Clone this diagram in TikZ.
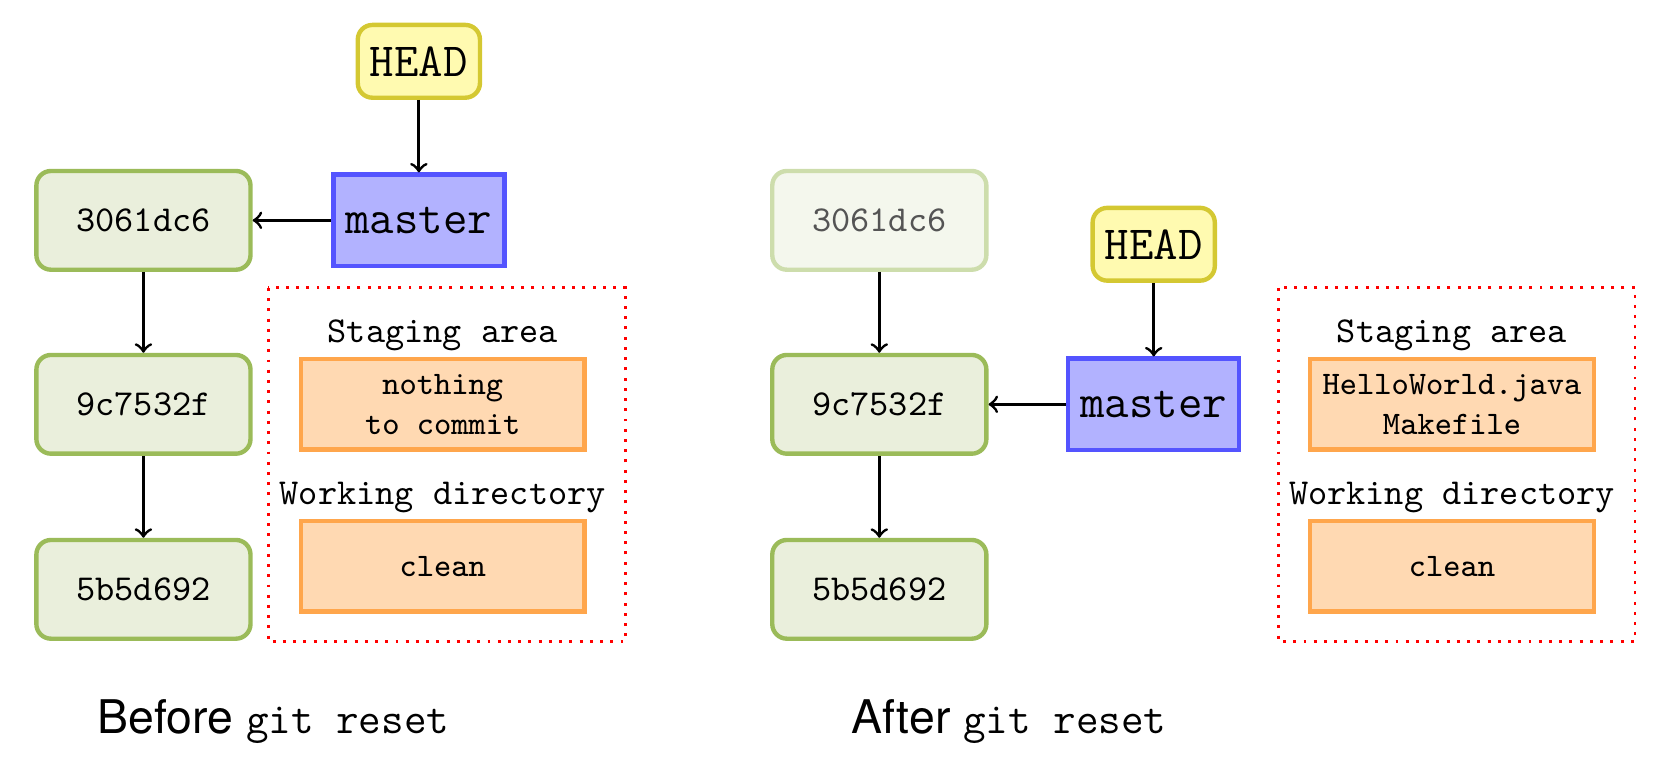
\documentclass[tikz,border=0pt]{standalone}
\usepackage{fontspec}
\newfontfamily\capfont{TeX Gyre Heros}
\definecolor{commitfill}{RGB}{234,239,220}
\definecolor{commitdraw}{RGB}{155,187,89}
\definecolor{headfill}{RGB}{255,250,176}
\definecolor{headdraw}{RGB}{212,200,50}
\begin{document}
\begin{tikzpicture}[thick, every node/.style={font=\ttfamily},
	commit/.style={rounded corners, very thick, draw=commitdraw, fill=commitfill, minimum width=2.06cm, minimum height=0.95cm},
	oldcommit/.style={commit, draw=commitdraw!50, fill=commitfill!50, text=black!67},
	head/.style={rounded corners, very thick, draw=headdraw, fill=headfill, minimum height=0.7cm, font=\fontsize{13}{15}\selectfont\ttfamily},
	branch/.style={very thick, draw=blue!67, fill=blue!30, minimum height=0.88cm, font=\fontsize{13}{15}\selectfont\ttfamily},
	area/.style={very thick, draw=orange!70, fill=orange!30, minimum width=2.73cm, minimum height=0.87cm, align=center, font=\small\ttfamily}]
	\useasboundingbox (0,0) rectangle (16,-7.31);
	
	% before
	\node (1) at (1.38,-2.12) [commit]{3061dc6};
	\node (2) at (1.38,-3.89) [commit]{9c7532f};
	\node (3) at (1.38,-5.67) [commit]{5b5d692};
	\node (4) at (4.03,-2.12) [branch]{master};
	\node (5) at (4.03,-0.59) [head]{HEAD};
	\node (6) at (4.26,-3.23) {Staging area};
	\node (7) at (4.26,-3.89) [area]{nothing\\to commit};
	\node (8) at (4.26,-4.79) {Working directory};
	\node (9) at (4.26,-5.45) [area]{clean};
	\draw [red, dotted] (2.58,-2.77) rectangle (6.02,-6.17);
	\node (10) at (2.63,-6.94) {\fontsize{12.7}{15}\selectfont\capfont Before \fontsize{12}{15}\selectfont\ttfamily git reset};
	
	% after
	\node (11) at (8.46,-2.12) [oldcommit]{3061dc6};
	\node (12) at (8.46,-3.89) [commit]{9c7532f};
	\node (13) at (8.46,-5.67) [commit]{5b5d692};
	\node (14) at (11.10,-3.89) [branch]{master};
	\node (15) at (11.10,-2.35) [head]{HEAD};
	\node (16) at (13.97,-3.23) {Staging area};
	\node (17) at (13.97,-3.89) [area]{HelloWorld.java\\Makefile};
	\node (18) at (13.97,-4.79) {Working directory};
	\node (19) at (13.97,-5.45) [area]{clean};
	\draw [red, dotted] (12.30,-2.77) rectangle (15.73,-6.17);
	\node (20) at (9.71,-6.94) {\fontsize{12.7}{15}\selectfont\capfont After \fontsize{12}{15}\selectfont\ttfamily git reset};
	
	\draw [->] (1) to (2);
	\draw [->] (2) to (3);
	\draw [->] (4) to (1);
	\draw [->] (5) to (4);
	\draw [->] (11) to (12);
	\draw [->] (12) to (13);
	\draw [->] (14) to (12);
	\draw [->] (15) to (14);
	
\end{tikzpicture}
\end{document}
